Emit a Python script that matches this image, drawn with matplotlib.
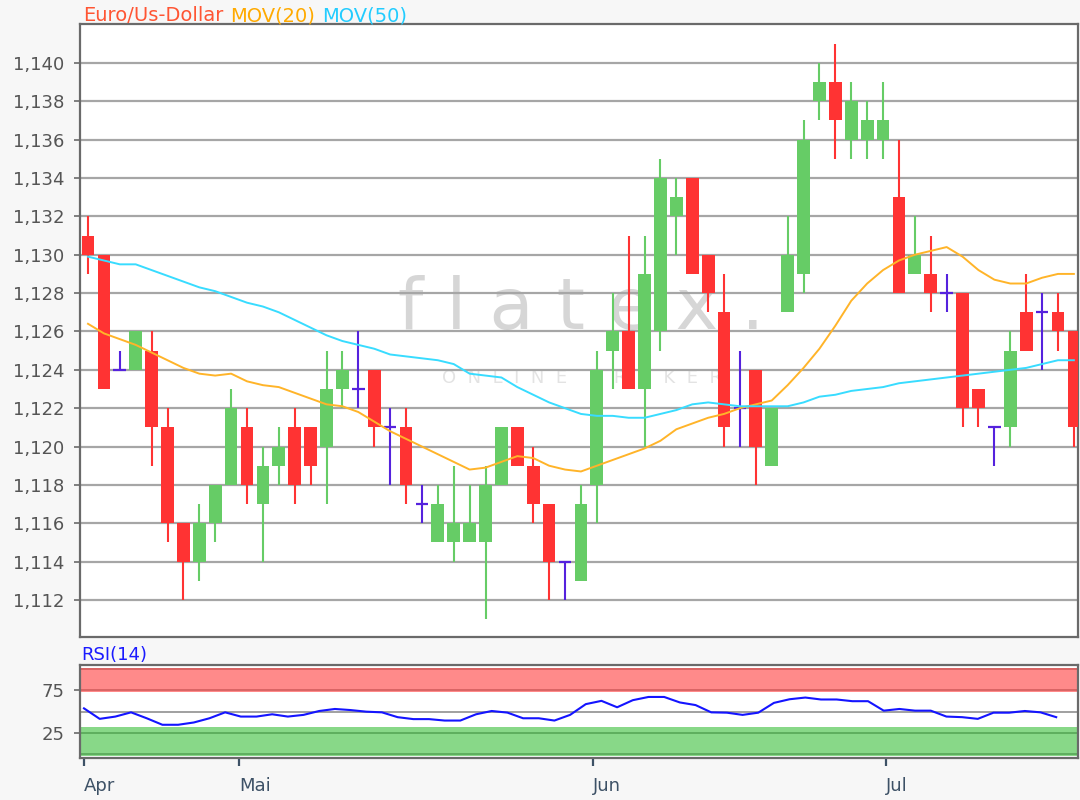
import matplotlib
matplotlib.use("Agg")
import matplotlib.pyplot as plt
from matplotlib.ticker import FuncFormatter
import numpy as np

plt.rcParams["font.family"] = ["DejaVu Sans"]

# daily candles, Euro/US-Dollar
opens = [1.131, 1.130, 1.124, 1.124, 1.125, 1.121, 1.116, 1.114, 1.116, 1.118,
         1.121, 1.117, 1.119, 1.121, 1.121, 1.120, 1.123, 1.123, 1.124, 1.121,
         1.121, 1.117, 1.115, 1.115, 1.115, 1.115, 1.118, 1.121, 1.119, 1.117,
         1.114, 1.113, 1.118, 1.125, 1.126, 1.123, 1.126, 1.132, 1.134, 1.130,
         1.127, 1.122, 1.124, 1.119, 1.127, 1.129, 1.138, 1.139, 1.136, 1.136,
         1.136, 1.133, 1.129, 1.129, 1.128, 1.128, 1.123, 1.121, 1.121, 1.127,
         1.127, 1.127, 1.126]
highs = [1.132, 1.130, 1.125, 1.126, 1.126, 1.122, 1.116, 1.117, 1.118, 1.123,
         1.122, 1.120, 1.121, 1.122, 1.121, 1.125, 1.125, 1.126, 1.124, 1.122,
         1.122, 1.118, 1.118, 1.119, 1.118, 1.119, 1.121, 1.121, 1.120, 1.117,
         1.114, 1.118, 1.125, 1.128, 1.131, 1.131, 1.135, 1.134, 1.134, 1.130,
         1.129, 1.125, 1.124, 1.122, 1.132, 1.137, 1.140, 1.141, 1.139, 1.138,
         1.139, 1.136, 1.132, 1.131, 1.129, 1.128, 1.123, 1.121, 1.126, 1.129,
         1.128, 1.128, 1.126]
lows = [1.129, 1.123, 1.124, 1.124, 1.119, 1.115, 1.112, 1.113, 1.115, 1.118,
        1.117, 1.114, 1.118, 1.117, 1.118, 1.117, 1.122, 1.122, 1.120, 1.118,
        1.117, 1.116, 1.115, 1.114, 1.115, 1.111, 1.118, 1.119, 1.116, 1.112,
        1.112, 1.113, 1.116, 1.123, 1.123, 1.120, 1.125, 1.130, 1.129, 1.127,
        1.120, 1.120, 1.118, 1.119, 1.127, 1.128, 1.137, 1.135, 1.135, 1.135,
        1.135, 1.128, 1.129, 1.127, 1.127, 1.121, 1.121, 1.119, 1.120, 1.125,
        1.124, 1.125, 1.120]
closes = [1.130, 1.123, 1.124, 1.126, 1.121, 1.116, 1.114, 1.116, 1.118, 1.122,
          1.118, 1.119, 1.120, 1.118, 1.119, 1.123, 1.124, 1.123, 1.121, 1.121,
          1.118, 1.117, 1.117, 1.116, 1.116, 1.118, 1.121, 1.119, 1.117, 1.114,
          1.114, 1.117, 1.124, 1.126, 1.123, 1.129, 1.134, 1.133, 1.129, 1.128,
          1.121, 1.122, 1.120, 1.122, 1.130, 1.136, 1.139, 1.137, 1.138, 1.137,
          1.137, 1.128, 1.130, 1.128, 1.128, 1.122, 1.122, 1.121, 1.125, 1.125,
          1.127, 1.126, 1.121]

mov20 = [1.1264, 1.1259, 1.1256, 1.1253, 1.1249, 1.1245, 1.1241, 1.1238, 1.1237, 1.1238,
         1.1234, 1.1232, 1.1231, 1.1228, 1.1225, 1.1222, 1.1221, 1.1218, 1.1213, 1.1208,
         1.1204, 1.1200, 1.1196, 1.1192, 1.1188, 1.1189, 1.1192, 1.1195, 1.1194, 1.1190,
         1.1188, 1.1187, 1.1190, 1.1193, 1.1196, 1.1199, 1.1203, 1.1209, 1.1212, 1.1215,
         1.1217, 1.1220, 1.1222, 1.1224, 1.1232, 1.1241, 1.1251, 1.1263, 1.1276, 1.1285,
         1.1292, 1.1297, 1.1300, 1.1302, 1.1304, 1.1299, 1.1292, 1.1287, 1.1285, 1.1285,
         1.1288, 1.1290, 1.1290]
mov50 = [1.1299, 1.1297, 1.1295, 1.1295, 1.1292, 1.1289, 1.1286, 1.1283, 1.1281, 1.1278,
         1.1275, 1.1273, 1.1270, 1.1266, 1.1262, 1.1258, 1.1255, 1.1253, 1.1251, 1.1248,
         1.1247, 1.1246, 1.1245, 1.1243, 1.1238, 1.1237, 1.1236, 1.1231, 1.1227, 1.1223,
         1.1220, 1.1217, 1.1216, 1.1216, 1.1215, 1.1215, 1.1217, 1.1219, 1.1222, 1.1223,
         1.1222, 1.1221, 1.1221, 1.1221, 1.1221, 1.1223, 1.1226, 1.1227, 1.1229, 1.1230,
         1.1231, 1.1233, 1.1234, 1.1235, 1.1236, 1.1237, 1.1238, 1.1239, 1.1240, 1.1241,
         1.1243, 1.1245, 1.1245]

rsi14 = [53.7, 41.3, 44, 49, 42, 34.3, 34.3, 37, 42, 49,
         44, 44, 46.7, 44, 46, 50.6, 53, 51.7, 49.8, 49,
         43.3, 41, 41, 39.3, 39.3, 46.7, 50.6, 48.7, 42, 42,
         39.3, 46, 58.7, 62.6, 55, 63.4, 67.2, 67.2, 60.7, 57.6,
         49, 48.6, 46, 48.6, 60.2, 64.5, 66.5, 64.2, 64.2, 62.2,
         62.2, 51, 53, 51, 51, 44, 43.3, 41.3, 48.6, 48.6,
         50.6, 49, 43.3]

price_ticks = [1.112, 1.114, 1.116, 1.118, 1.120, 1.122, 1.124, 1.126,
               1.128, 1.130, 1.132, 1.134, 1.136, 1.138, 1.140]
months = ["Apr", "Mai", "Jun", "Jul"]
month_pos = [0.0, 9.9, 32.45, 51.15]

BG = "#f7f7f7"
RED = "#ff3333"
GREEN = "#66cc66"
DOJI = "#5522dd"
GRID = "#a6a6a6"
SPINE = "#6a6a6a"
TXT = "#555555"

fig = plt.figure(figsize=(10.8, 8.0), dpi=100, facecolor=BG)
ax = fig.add_axes([80 / 1080, 1 - 637 / 800, 998 / 1080, 613 / 800])
ax2 = fig.add_axes([80 / 1080, 1 - 758 / 800, 998 / 1080, 93 / 800])

o, h, l, c = (np.array(v) for v in (opens, highs, lows, closes))
x = np.arange(len(o))
col = np.where(c > o, GREEN, np.where(c < o, RED, DOJI))

# watermark
ax.text(0.502, 0.535, "f l a t e x .", transform=ax.transAxes, fontsize=52,
        color="#d6d6d6", ha="center", va="center", zorder=0)
ax.text(0.503, 0.423, "O  N  L  I  N  E    B  R  O  K  E  R", transform=ax.transAxes,
        fontsize=13, color="#e3e3e3", ha="center", va="center", zorder=0)

for p in price_ticks:
    ax.axhline(p, color=GRID, lw=1.6, zorder=1)

ax.vlines(x, l, h, colors=col, lw=1.5, zorder=2)
body = c != o
ax.bar(x[body], np.abs(c - o)[body], bottom=np.minimum(o, c)[body], width=0.8,
       color=col[body], linewidth=0, zorder=3)
ax.hlines(c[~body], x[~body] - 0.4, x[~body] + 0.4, colors=DOJI, lw=1.6, zorder=3)

ax.plot(x, mov20, color="#ffb429", lw=1.4, zorder=4)
ax.plot(x, mov50, color="#38dcff", lw=1.4, zorder=4)

ax.set_xlim(-0.503, 62.26)
ax.set_ylim(1.11007, 1.14203)
ax.set_xticks([])
ax.set_yticks(price_ticks)
ax.yaxis.set_major_formatter(FuncFormatter(lambda v, _: f"{v:.3f}".replace(".", ",")))
ax.tick_params(axis="y", direction="out", length=4, width=1.2, color=SPINE,
               labelsize=13, labelcolor=TXT, pad=7)
for s in ax.spines.values():
    s.set_color(SPINE)
    s.set_linewidth(1.6)

# RSI panel
ax2.axhspan(72.5, 101.5, color="#ff8a8a", lw=0, zorder=0)
ax2.axhspan(-2.5, 31.5, color="#88d888", lw=0, zorder=0)
for yv in (75, 100):
    ax2.axhline(yv, color="#d96464", lw=1.4, zorder=1)
for yv in (0, 25):
    ax2.axhline(yv, color="#5eae5e", lw=1.4, zorder=1)
ax2.axhline(50, color="#a0a0a0", lw=1.4, zorder=1)
ax2.plot(np.arange(len(rsi14)), rsi14, color="#1414ff", lw=1.5, zorder=3)
ax2.set_xlim(-0.255, 63.39)
ax2.set_ylim(-5, 105)
ax2.set_yticks([25, 75])
ax2.tick_params(axis="y", direction="out", length=4, width=1.2, color=SPINE,
                labelsize=13, labelcolor=TXT, pad=7)
ax2.set_xticks(month_pos)
ax2.set_xticklabels(months)
for lbl in ax2.get_xticklabels():
    lbl.set_horizontalalignment("left")
ax2.tick_params(axis="x", direction="out", length=6, width=1.6, color="#3d5166",
                labelsize=13, labelcolor="#3d5166", pad=8)
for s in ax2.spines.values():
    s.set_color(SPINE)
    s.set_linewidth(1.6)

# titles
t1 = fig.text(83 / 1080, 1 - 21 / 800, "Euro/Us-Dollar", color="#ff5533",
              fontsize=14, va="baseline")
t2 = ax.annotate("MOV(20)", xy=(1, 0), xycoords=t1, xytext=(5, 0),
                 textcoords="offset points", color="#ffaa00", fontsize=14,
                 va="bottom", annotation_clip=False)
ax.annotate("MOV(50)", xy=(1, 0), xycoords=t2, xytext=(5, 0),
            textcoords="offset points", color="#22ccff", fontsize=14,
            va="bottom", annotation_clip=False)
fig.text(81 / 1080, 1 - 660 / 800, "RSI(14)", color="#1a1aff", fontsize=13,
         va="baseline")

fig.savefig("out.png", dpi=100, facecolor=BG)
